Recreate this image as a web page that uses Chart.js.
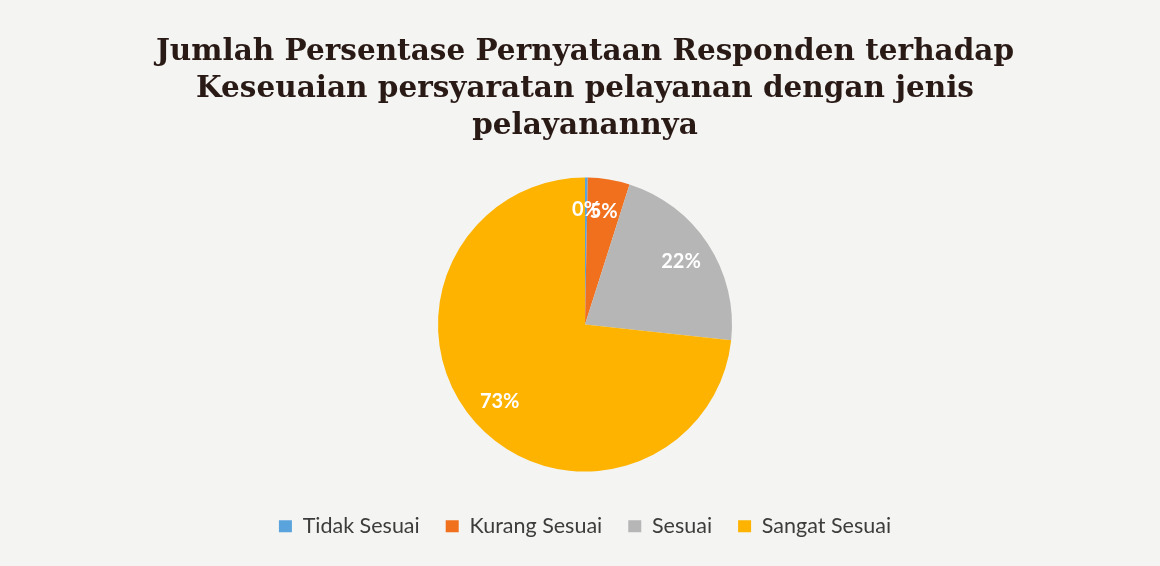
<!DOCTYPE html>
<html lang="id">
<head>
<meta charset="UTF-8">
<title>Persentase Pernyataan Responden</title>
<script src="https://cdn.jsdelivr.net/npm/chart.js@4.4.0/dist/chart.umd.min.js"></script>
<style>
	html, body { margin: 0; padding: 0; background: #f4f4f2; }
	#wrap { width: 1160px; height: 566px; }
</style>
</head>
<body>
	<div id="wrap"><canvas id="piechart"></canvas></div>

	<script>
		// data
		var titleLines = ['Jumlah Persentase Pernyataan Responden terhadap',
			'Keseuaian persyaratan pelayanan dengan jenis',
			'pelayanannya'];
		var categories = ['Tidak Sesuai', 'Kurang Sesuai', 'Sesuai', 'Sangat Sesuai'];
		var percentValues = [0.3, 4.6, 21.8, 73.3];
		var percentLabels = ['0%', '5%', '22%', '73%'];
		var sliceColors = ['#5ba3dc', '#f0701e', '#b6b6b6', '#fdb300'];

		// white labels inside the slices
		var sliceLabels = {
			id : 'sliceLabels',
			afterDatasetsDraw : function(chart) {
				var ctx = chart.ctx;
				var meta = chart.getDatasetMeta(0);
				ctx.save();
				ctx.fillStyle = '#ffffff';
				ctx.font = 'bold 20px Lato, "Open Sans", sans-serif';
				ctx.textAlign = 'center';
				ctx.textBaseline = 'middle';
				meta.data.forEach(function(arc, i) {
					var p = arc.getProps(['x', 'y', 'startAngle', 'endAngle', 'outerRadius'], true);
					var mid = (p.startAngle + p.endAngle) / 2;
					var r = p.outerRadius * 0.78;
					ctx.fillText(percentLabels[i], p.x + Math.cos(mid) * r, p.y + Math.sin(mid) * r);
				});
				ctx.restore();
			}
		};

		var bg = {
			id : 'bg',
			beforeDraw : function(chart) {
				var ctx = chart.ctx;
				ctx.save();
				ctx.fillStyle = '#f4f4f2';
				ctx.fillRect(0, 0, chart.width, chart.height);
				ctx.restore();
			}
		};

		var ctx1 = document.getElementById('piechart').getContext('2d');
		var chart1 = new Chart(ctx1, {
			type : 'pie',
			data : {
				labels : categories,
				datasets : [ {
					data : percentValues,
					backgroundColor : sliceColors,
					borderWidth : 0,
					radius : 147
				} ]
			},
			options : {
				responsive : true,
				maintainAspectRatio : false,
				animation : false,
				layout : {
					padding : { top : 0, bottom : 19, left : 10, right : 0 }
				},
				plugins : {
					title : {
						display : true,
						text : titleLines,
						color : '#2a1a16',
						font : { family : '"DejaVu Serif", serif', size : 29.5, weight : 'bold', lineHeight : 1.25 },
						padding : { top : 34, bottom : 15 }
					},
					legend : {
						position : 'bottom',
						labels : {
							color : '#3c3c3c',
							font : { family : 'Lato, "Open Sans", sans-serif', size : 21.5 },
							boxWidth : 13,
							boxHeight : 12,
							padding : 26
						}
					},
					tooltip : { enabled : false }
				}
			},
			plugins : [ bg, sliceLabels ]
		});
	</script>
</body>
</html>
